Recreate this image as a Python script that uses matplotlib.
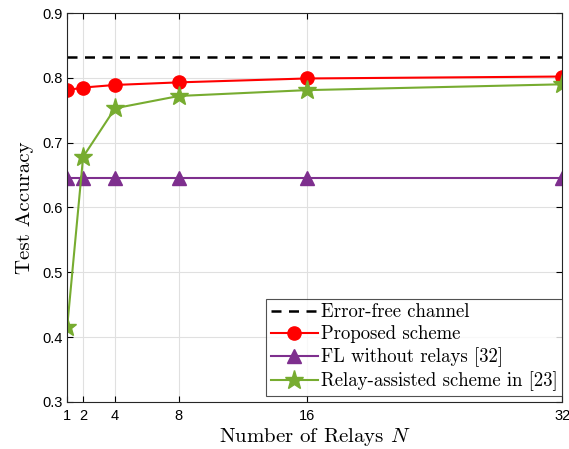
import matplotlib
matplotlib.use('Agg')
import matplotlib.pyplot as plt

# data
relays = [1, 2, 4, 8, 16, 32]
error_free = 0.832
proposed = [0.781, 0.785, 0.789, 0.793, 0.799, 0.802]
no_relay = [0.645, 0.645, 0.645, 0.645, 0.645, 0.645]
relay_assisted = [0.415, 0.678, 0.753, 0.772, 0.781, 0.790]

plt.rcParams['mathtext.fontset'] = 'cm'
plt.rcParams['font.family'] = ['Liberation Sans', 'DejaVu Sans']

fig = plt.figure(figsize=(5.69, 4.49), dpi=100)
ax = fig.add_axes([0.118, 0.105, 0.870, 0.866])

ax.plot([relays[0], relays[-1]], [error_free, error_free], 'k--', lw=1.8,
        dashes=(4, 3), label='Error-free channel')
ax.plot(relays, proposed, '-o', color='#FF0000', lw=1.5, ms=9.5,
        label='Proposed scheme')
ax.plot(relays, no_relay, '-^', color='#7E2F8E', lw=1.5, ms=10,
        label='FL without relays [32]')
ax.plot(relays, relay_assisted, '-*', color='#77AC30', lw=1.5, ms=14,
        label='Relay-assisted scheme in [23]')

ax.set_xlim(1, 32)
ax.set_ylim(0.3, 0.9)
ax.set_xticks(relays)
ax.set_yticks([0.3, 0.4, 0.5, 0.6, 0.7, 0.8, 0.9])
ax.set_yticklabels(['0.3', '0.4', '0.5', '0.6', '0.7', '0.8', '0.9'])
ax.tick_params(direction='in', labelsize=10.5, top=True, right=True, length=4)
ax.tick_params(axis='x', pad=5)
ax.grid(True, color='#e0e0e0', lw=0.8)
for s in ax.spines.values():
    s.set_color('#262626')
    s.set_linewidth(0.8)

ax.set_xlabel('Number of Relays $N$', family='cmr10', fontsize=15, labelpad=2)
ax.set_ylabel('Test Accuracy', family='cmr10', fontsize=15, labelpad=6)

leg = ax.legend(loc='lower right', bbox_to_anchor=(1.0, 0.015),
                prop={'family': 'cmr10', 'size': 13.5},
                fancybox=False, edgecolor='#262626', handlelength=2.5,
                handletextpad=0.15, borderpad=0.25, labelspacing=0.22,
                borderaxespad=0)
leg.get_frame().set_linewidth(0.8)

fig.savefig('out.png', dpi=100)
